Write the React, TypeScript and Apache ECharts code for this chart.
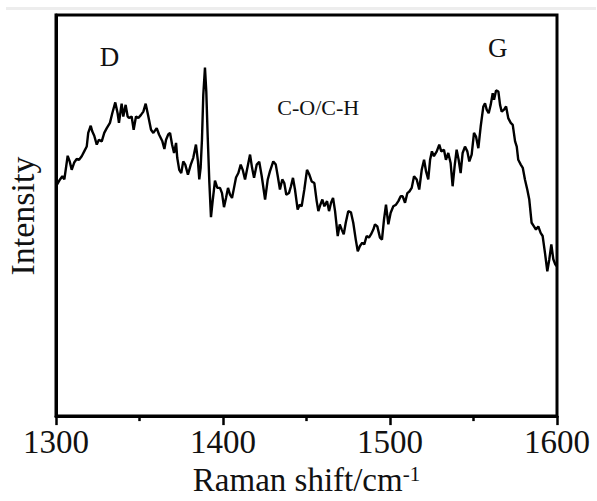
import React, { useEffect, useRef } from "react";
import * as echarts from "echarts";

const shifts: number[] = [
  1300, 1302.4, 1303.8, 1305.0, 1307.0, 1308.2, 1309.4, 1311.0, 1312.4, 1313.8, 1315.4, 1316.9, 1318.4, 1319.3,
  1320.8, 1321.7, 1322.9, 1324.4, 1325.7, 1327.4, 1328.9, 1330.4, 1332.3, 1333.7, 1335.5, 1336.9, 1337.7, 1339.3,
  1340.3, 1341.7, 1342.9, 1343.7, 1345.3, 1346.5, 1347.9, 1349.3, 1350.9, 1352.3, 1353.7, 1355.3, 1356.9, 1358.3,
  1360.3, 1361.7, 1363.7, 1364.9, 1365.9, 1367.2, 1368.3, 1369.5, 1370.7, 1371.9, 1372.6, 1373.8, 1375.0, 1376.2,
  1377.4, 1379.0, 1380.7, 1382.2, 1383.8, 1385.0, 1385.8, 1386.6, 1387.4, 1388.2, 1389.2, 1390.0, 1390.8, 1391.8,
  1392.8, 1393.8, 1395.2, 1396.6, 1398.2, 1399.4, 1400.6, 1401.8, 1403.0, 1404.2, 1405.4, 1406.6, 1407.8, 1409.2,
  1410.6, 1411.8, 1413.2, 1414.6, 1416.2, 1417.4, 1418.6, 1420.2, 1421.7, 1423.2, 1425.2, 1426.8, 1428.1, 1430.1,
  1431.6, 1432.8, 1434.1, 1435.5, 1436.7, 1437.9, 1439.5, 1440.7, 1441.9, 1443.1, 1444.7, 1445.9, 1447.1, 1448.7,
  1450.3, 1451.7, 1453.1, 1454.7, 1456.1, 1457.1, 1458.3, 1459.5, 1460.7, 1462.3, 1463.5, 1464.7, 1465.9, 1467.1,
  1468.7, 1469.9, 1471.1, 1472.3, 1473.5, 1475.0, 1476.6, 1478.0, 1479.5, 1480.7, 1482.0, 1483.4, 1484.6, 1486.0,
  1487.4, 1488.6, 1490.0, 1491.0, 1492.4, 1494.0, 1495.2, 1496.4, 1497.6, 1499.0, 1500.4, 1502.0, 1503.6, 1505.0,
  1506.4, 1507.6, 1509.0, 1510.4, 1511.6, 1513.0, 1514.4, 1516.0, 1517.5, 1519.0, 1520.4, 1521.6, 1522.9, 1524.0,
  1525.1, 1526.3, 1528.0, 1529.5, 1530.7, 1532.3, 1533.5, 1534.9, 1536.3, 1537.5, 1538.7, 1539.9, 1541.1, 1542.3,
  1543.5, 1544.9, 1546.3, 1547.5, 1548.9, 1550.3, 1551.5, 1552.9, 1554.3, 1555.9, 1556.9, 1557.9, 1559.1, 1560.3,
  1561.5, 1562.3, 1563.5, 1564.9, 1565.9, 1566.9, 1568.3, 1569.5, 1570.8, 1572.3, 1573.5, 1574.9, 1575.9, 1576.8,
  1578.3, 1579.5, 1580.8, 1582.2, 1583.4, 1584.8, 1586.2, 1587.4, 1588.8, 1590.2, 1591.4, 1592.8, 1594.2, 1595.4,
  1596.6, 1597.8, 1599.0, 1600
];

const intensities: number[] = [
  57.3, 59.0, 59.8, 59.0, 64.9, 63.5, 61.4, 63.3, 64.1, 63.9, 64.8, 66.0, 67.2, 70.6,
  72.4, 71.0, 69.9, 67.7, 68.9, 68.5, 70.6, 71.8, 73.1, 75.5, 78.2, 75.5, 73.1, 77.9,
  74.7, 77.6, 74.7, 74.3, 74.7, 71.4, 74.7, 74.3, 75.1, 75.9, 77.9, 74.7, 71.4, 70.6,
  71.8, 70.2, 68.5, 66.6, 68.9, 70.2, 70.6, 67.7, 65.6, 68.1, 64.4, 61.4, 60.6, 63.5,
  62.7, 60.2, 62.7, 64.4, 67.7, 63.5, 59.0, 61.9, 68.9, 80.1, 86.9, 80.9, 70.2, 58.5,
  49.6, 53.6, 58.7, 56.9, 56.9, 55.6, 52.1, 54.4, 56.9, 55.2, 54.4, 56.9, 59.5, 60.6,
  62.7, 61.4, 59.0, 61.9, 65.2, 61.9, 59.4, 62.7, 63.4, 59.8, 54.0, 59.0, 61.0, 63.5,
  62.7, 59.8, 56.5, 59.0, 58.1, 55.2, 55.6, 57.3, 59.4, 56.5, 51.5, 52.7, 52.3, 56.5,
  61.4, 60.2, 58.5, 58.1, 53.6, 51.1, 52.7, 54.0, 52.3, 53.6, 51.1, 53.2, 54.4, 51.1,
  44.9, 47.8, 46.5, 45.3, 48.2, 51.1, 50.8, 48.2, 44.0, 41.1, 42.4, 43.2, 42.8, 44.9,
  44.5, 45.3, 46.5, 47.8, 47.3, 44.5, 44.0, 49.0, 52.7, 47.8, 50.7, 52.3, 52.7, 53.6,
  54.8, 54.8, 53.2, 55.6, 56.0, 56.9, 59.8, 59.0, 56.5, 61.4, 63.9, 61.0, 59.0, 63.9,
  66.0, 64.8, 66.0, 67.7, 66.0, 66.4, 63.9, 65.6, 63.1, 57.3, 62.3, 66.4, 63.9, 60.6,
  65.6, 67.2, 66.0, 63.5, 65.2, 70.6, 69.7, 66.8, 72.2, 77.2, 78.0, 76.4, 75.5, 77.6,
  80.5, 78.9, 81.2, 80.9, 77.6, 75.9, 76.4, 77.2, 74.3, 73.1, 72.6, 68.5, 67.2, 63.9,
  62.7, 61.9, 59.0, 56.5, 54.0, 48.2, 47.3, 46.5, 47.3, 45.7, 44.9, 40.7, 36.1, 39.1,
  42.8, 39.1, 37.8, 37.3
];

const xTicks: number[] = [1300, 1400, 1500, 1600];
const annotationTexts: string[] = ["D", "G", "C-O/C-H"];
const annotationShifts: number[] = [1332, 1564.5, 1457];
const annotationValues: number[] = [89.6, 91.8, 76.9];
const annotationSizes: number[] = [27, 27, 22];

const FONT = "'Liberation Serif', 'Times New Roman', serif";

export default function App() {
  const ref = useRef<HTMLDivElement>(null);
  useEffect(() => {
    if (!ref.current) return;
    const chart = echarts.init(ref.current, null, { renderer: "svg" });
    const data = shifts.map((s, i) => [s, intensities[i]]);
    chart.setOption({
      animation: false,
      backgroundColor: "#ffffff",
      grid: {
        left: 56,
        right: 40,
        top: 15,
        bottom: 84,
        show: true,
        borderColor: "#000",
        borderWidth: 3,
        backgroundColor: "transparent",
      },
      xAxis: {
        type: "value",
        min: 1300,
        max: 1600,
        interval: 100,
        axisLine: { show: true, lineStyle: { color: "#000", width: 3 } },
        axisTick: { show: true, inside: false, length: 9, lineStyle: { color: "#000", width: 2.5 } },
        minorTick: { show: true, splitNumber: 2, length: 5, lineStyle: { color: "#000", width: 2.5 } },
        splitLine: { show: false },
        axisLabel: {
          margin: 9,
          fontFamily: FONT,
          fontSize: 33,
          color: "#111",
          formatter: (v: number) => (xTicks.includes(v) ? String(v) : ""),
        },
        name: "Raman shift/cm{sup|-1}",
        nameLocation: "middle",
        nameGap: 41,
        nameTextStyle: {
          fontFamily: FONT,
          fontSize: 33,
          color: "#111",
          rich: {
            sup: { fontFamily: FONT, fontSize: 21, color: "#111", verticalAlign: "top", padding: [0, 0, 12, 0] },
          },
        },
      },
      yAxis: {
        type: "value",
        min: 0,
        max: 100,
        axisLine: { show: true, lineStyle: { color: "#000", width: 3 } },
        axisTick: { show: false },
        axisLabel: { show: false },
        splitLine: { show: false },
      },
      series: [
        {
          type: "line",
          data,
          showSymbol: false,
          symbol: "none",
          lineStyle: { color: "#000", width: 2.4 },
          z: 3,
        },
      ],
    });

    const notes = annotationTexts.map((t, i) => {
      const [px, py] = chart.convertToPixel({ gridIndex: 0 }, [annotationShifts[i], annotationValues[i]]) as number[];
      return {
        type: "text",
        x: px,
        y: py,
        silent: true,
        style: {
          text: t,
          fontFamily: FONT,
          fontSize: annotationSizes[i],
          fill: "#111",
          textAlign: "center",
          textVerticalAlign: "middle",
        },
      };
    });

    chart.setOption({
      graphic: [
        { type: "rect", shape: { x: 6, y: 7, width: 590, height: 3 }, style: { fill: "#ededed" }, silent: true },
        {
          type: "text",
          x: 22,
          y: 216,
          rotation: Math.PI / 2,
          silent: true,
          style: {
            text: "Intensity",
            fontFamily: FONT,
            fontSize: 34,
            fill: "#111",
            textAlign: "center",
            textVerticalAlign: "middle",
          },
        },
        ...notes,
      ],
    });
    return () => chart.dispose();
  }, []);
  return (
    <div
      ref={ref}
      style={{ position: "fixed", left: 0, top: 0, width: 597, height: 501, background: "#fff" }}
    />
  );
}
